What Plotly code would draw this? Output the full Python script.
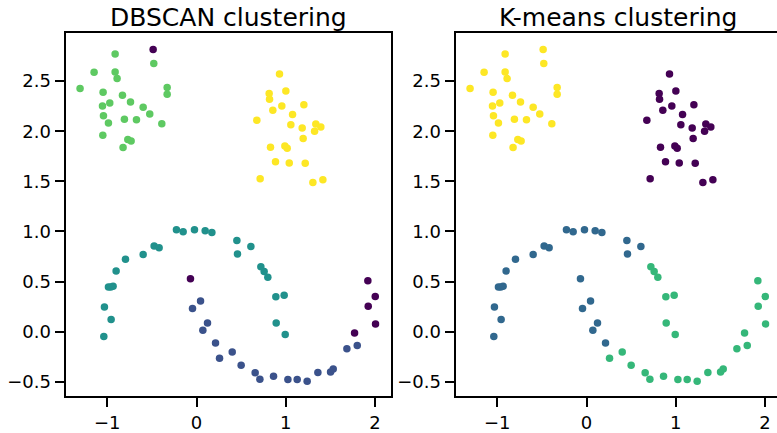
import plotly.graph_objects as go

# ---- data (x, y) ----
# cluster A: upper-left blob
ax_ = [-1.305, -1.148, -0.912, -0.912, -0.890, -1.047, -0.830, -1.054, -0.972, -0.740,
       -0.598, -1.043, -0.808, -0.673, -0.524, -0.987, -0.389, -1.050, -0.770, -0.733,
       -0.823, -0.486, -0.479, -0.329, -0.329]
ay_ = [2.428, 2.588, 2.771, 2.591, 2.526, 2.389, 2.359, 2.252, 2.281, 2.291,
       2.239, 2.154, 2.121, 2.115, 2.173, 2.082, 2.075, 1.961, 1.919, 1.902,
       1.837, 2.817, 2.676, 2.438, 2.369]
a_db = [2] * 21 + [-1] + [2] * 3
a_km = [3] * 25

# cluster B: upper-right blob
bx_ = [0.930, 0.814, 0.818, 1.001, 0.855, 0.956, 1.203, 1.076, 0.676, 1.057,
       1.184, 1.337, 1.393, 1.323, 1.195, 0.829, 0.990, 1.016, 0.885, 1.039,
       1.218, 0.713, 1.304, 1.416]
by_ = [2.572, 2.376, 2.320, 2.402, 2.209, 2.252, 2.265, 2.167, 2.111, 2.066,
       2.033, 2.072, 2.043, 2.000, 1.928, 1.840, 1.853, 1.831, 1.697, 1.684,
       1.680, 1.527, 1.488, 1.517]
b_db = [3] * 24
b_km = [0] * 24

# cluster C: moon points (k-means group 1)
cx_ = [-0.225, -0.150, -0.023, 0.097, 0.172, -0.475, -0.419, -0.598, -0.796, -0.901,
       -0.987, -0.961, -0.935, -1.032, -0.957, -1.039, 0.452, 0.609, 0.459, -0.068,
       0.045, -0.045, 0.123, 0.071, 0.213]
cy_ = [1.018, 0.998, 1.018, 1.008, 0.991, 0.854, 0.838, 0.770, 0.724, 0.606,
       0.446, 0.446, 0.453, 0.247, 0.123, -0.047, 0.910, 0.851, 0.776, 0.528,
       0.306, 0.231, 0.087, 0.015, -0.112]
c_db = [1] * 19 + [-1] + [0] * 5
c_km = [1] * 25

# cluster D: moon points (k-means group 2)
dx_ = [0.721, 0.758, 0.799, 0.889, 0.982, 0.893, 0.994, 0.258, 0.400, 0.500,
       0.657, 0.710, 0.863, 1.024, 1.128, 1.240, 1.360, 1.502, 1.532, 1.685,
       1.771, 1.801, 1.920, 2.003, 1.924, 2.006]
dy_ = [0.649, 0.600, 0.544, 0.348, 0.365, 0.087, -0.027, -0.265, -0.203, -0.334,
       -0.409, -0.474, -0.445, -0.478, -0.478, -0.494, -0.406, -0.403, -0.373, -0.171,
       -0.014, -0.138, 0.508, 0.352, 0.254, 0.077]
d_db = [1] * 7 + [0] * 13 + [-1] + [0] + [-1] * 4
d_km = [2] * 26

titles = ["DBSCAN clustering", "K-means clustering"]
x_ticks = [-1, 0, 1, 2]
y_ticks = [-0.5, 0.0, 0.5, 1.0, 1.5, 2.0, 2.5]

db_colors = {-1: "#440154", 0: "#3b528b", 1: "#21918c", 2: "#5ec962", 3: "#fde725"}
km_colors = {0: "#440154", 1: "#31688e", 2: "#35b779", 3: "#fde725"}

xs = ax_ + bx_ + cx_ + dx_
ys = ay_ + by_ + cy_ + dy_
lab_db = a_db + b_db + c_db + d_db
lab_km = a_km + b_km + c_km + d_km

W, H = 777, 433
FONT = "DejaVu Sans"

fig = go.Figure()
fig.add_trace(go.Scatter(x=xs, y=ys, mode="markers", xaxis="x", yaxis="y",
                         marker=dict(size=7.5, color=[db_colors[l] for l in lab_db], line=dict(width=0)),
                         showlegend=False, hoverinfo="skip"))
fig.add_trace(go.Scatter(x=xs, y=ys, mode="markers", xaxis="x2", yaxis="y2",
                         marker=dict(size=7.5, color=[km_colors[l] for l in lab_km], line=dict(width=0)),
                         showlegend=False, hoverinfo="skip"))

y_dom = [(H - 403.5) / H, (H - 34) / H]
x1_dom = [65.7 / W, 390.7 / W]
x2_dom = [455.7 / W, 1.0]

common_ax = dict(showgrid=False, zeroline=False, showline=True, linecolor="black", linewidth=2.2,
                 ticks="outside", ticklen=9, tickwidth=2, tickcolor="black",
                 tickfont=dict(family=FONT, size=18, color="black"))

fig.update_layout(
    width=W, height=H, margin=dict(l=0, r=0, t=0, b=0),
    paper_bgcolor="white", plot_bgcolor="white",
    font=dict(family=FONT, color="black"),
    xaxis=dict(domain=x1_dom, range=[-1.466, 2.176], tickvals=x_ticks, mirror=True, anchor="y", **common_ax),
    yaxis=dict(domain=y_dom, range=[-0.642, 2.977], tickvals=y_ticks, tickformat=".1f", mirror=True, anchor="x", **common_ax),
    xaxis2=dict(domain=x2_dom, range=[-1.466, 2.1345], tickvals=x_ticks, mirror=True, anchor="y2", **common_ax),
    yaxis2=dict(domain=y_dom, range=[-0.642, 2.977], tickvals=y_ticks, tickformat=".1f", mirror=False, anchor="x2", **common_ax),
)

centers = [(65.7 + 390.7) / 2 / W, (455.7 + 780.7) / 2 / W]
for t, cx in zip(titles, centers):
    fig.add_annotation(text=t, x=cx, y=y_dom[1], xref="paper", yref="paper",
                       xanchor="center", yanchor="bottom", yshift=-1, showarrow=False,
                       font=dict(family=FONT, size=25, color="black"))

fig.write_html("out.html", config={"displayModeBar": False},
               post_script="document.body.style.margin='0';document.body.style.overflow='hidden';")
